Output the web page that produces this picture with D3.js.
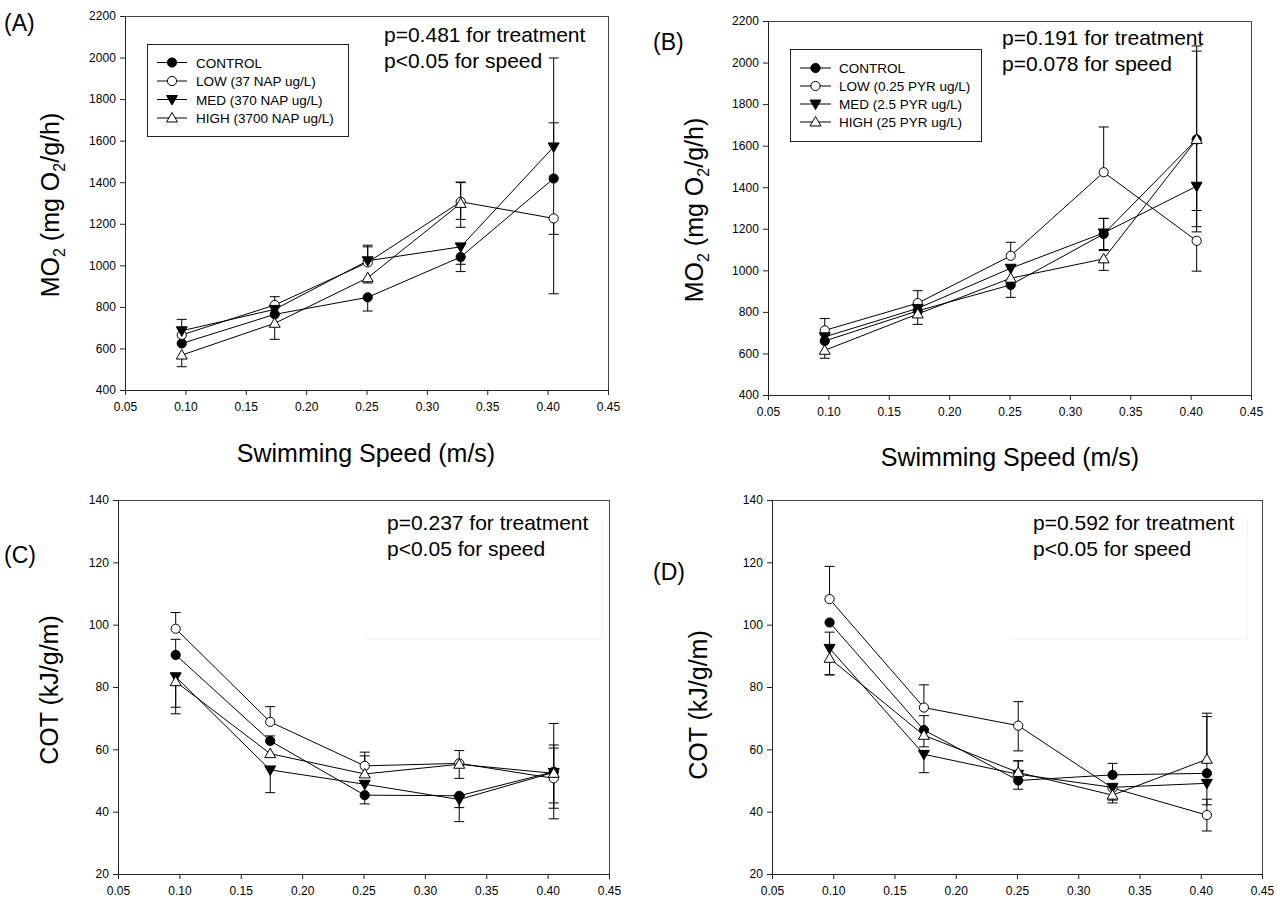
<!DOCTYPE html>
<html><head><meta charset="utf-8">
<script src="https://cdn.jsdelivr.net/npm/d3@7"></script>
<style>
html,body{margin:0;padding:0;background:#fff;}
svg{display:block;font-family:Arial,"Liberation Sans",sans-serif;}
</style></head>
<body>
<svg id="chart" width="1286" height="903"></svg>
<script>
// ---------- data ----------
const speeds = [0.097, 0.174, 0.251, 0.328, 0.405];
const xTicks = [0.05, 0.10, 0.15, 0.20, 0.25, 0.30, 0.35, 0.40, 0.45];
const moTicks = [400, 600, 800, 1000, 1200, 1400, 1600, 1800, 2000, 2200];
const cotTicks = [20, 40, 60, 80, 100, 120, 140];
const seriesNames = ["CONTROL", "LOW", "MED", "HIGH"];
const legendA = ["CONTROL", "LOW (37 NAP ug/L)", "MED (370 NAP ug/L)", "HIGH (3700 NAP ug/L)"];
const legendB = ["CONTROL", "LOW (0.25 PYR ug/L)", "MED (2.5 PYR ug/L)", "HIGH (25 PYR ug/L)"];

// Panel A: MO2, naphthalene (rows: CONTROL, LOW, MED, HIGH)
const aMeans = [[624, 764, 846, 1040, 1418],
                [665, 809, 1014, 1306, 1226],
                [685, 788, 1022, 1089, 1570],
                [568, 721, 940, 1298, null]];
const aErrUp = [[0, 0, 0, 0, 580], [0, 40, 75, 95, 0], [55, 0, 75, 0, 116], [0, 0, 0, 100, 0]];
const aErrDn = [[0, 0, 66, 70, 555], [0, 0, 0, 123, 77], [0, 0, 0, 84, 0], [56, 77, 25, 77, 0]];

// Panel B: MO2, pyrene
const bMeans = [[660, 805, 930, 1175, 1630],
                [711, 842, 1070, 1472, 1142],
                [680, 817, 1010, 1180, 1405],
                [615, 790, 962, 1055, 1630]];
const bErrUp = [[0, 0, 0, 75, 450], [57, 60, 65, 218, 0], [0, 0, 0, 70, 0], [0, 0, 0, 0, 425]];
const bErrDn = [[0, 0, 60, 80, 445], [0, 0, 0, 0, 146], [0, 0, 0, 80, 117], [38, 50, 0, 55, 420]];

// Panel C: COT, naphthalene
const cMeans = [[90.3, 62.7, 45.3, 45.1, 52.8],
                [98.7, 68.8, 54.7, 55.5, 50.7],
                [83.3, 53.4, 48.8, 43.9, 52.6],
                [81.7, 58.6, 52.1, 55.2, 52.3]];
const cErrUp = [[5, 1.6, 0, 0, 8.6], [5.2, 4.9, 4.4, 4.1, 17.6], [0, 0, 0, 0, 7.8], [0, 0, 5.8, 0, 0]];
const cErrDn = [[0, 0, 2.8, 3.8, 10], [0, 0, 0, 0, 13], [9.8, 7.3, 0, 7.1, 11.5], [10.3, 0, 0, 4.5, 0]];

// Panel D: COT, pyrene
const dMeans = [[100.7, 66.2, 50.0, 51.8, 52.3],
                [108.2, 73.4, 67.6, 47.6, 38.9],
                [92.4, 58.4, 52.0, 47.8, 49.1],
                [89.2, 64.5, 52.6, 45.3, 56.8]];
const dErrUp = [[0, 4.6, 0, 3.7, 18.2], [10.5, 7.3, 7.7, 0, 5.1], [5.2, 0, 4.3, 0, 0], [0, 0, 3.7, 0, 14.8]];
const dErrDn = [[0, 0, 2.8, 0, 0], [0, 0, 8.1, 0, 5.1], [8.5, 5.9, 0, 4.1, 6.9], [5.3, 3.7, 0, 2.5, 0]];

const pTextA = ["p=0.481 for treatment", "p<0.05 for speed"];
const pTextB = ["p=0.191 for treatment", "p=0.078 for speed"];
const pTextC = ["p=0.237 for treatment", "p<0.05 for speed"];
const pTextD = ["p=0.592 for treatment", "p<0.05 for speed"];

// ---------- drawing ----------
const svg = d3.select("#chart");
svg.append("rect").attr("width", 1286).attr("height", 903).attr("fill", "#fff");

// marker styles: CONTROL filled circle, LOW open circle, MED filled down-triangle, HIGH open up-triangle
const markerSpec = [
  {type: "circle", fill: "#000"},
  {type: "circle", fill: "#fff"},
  {type: "tri", fill: "#000", rot: 180},
  {type: "tri", fill: "#fff", rot: 0}
];
const triPath = d3.symbol().type(d3.symbolTriangle).size(52)();

function drawMarker(g, spec, cx, cy) {
  if (spec.type === "circle") {
    g.append("circle").attr("cx", cx).attr("cy", cy).attr("r", 4.6)
      .attr("fill", spec.fill).attr("stroke", "#000").attr("stroke-width", 1);
  } else {
    g.append("path").attr("d", triPath)
      .attr("transform", `translate(${cx},${cy + (spec.rot ? -0.8 : 0.8)}) rotate(${spec.rot})`)
      .attr("fill", spec.fill).attr("stroke", "#000").attr("stroke-width", 1);
  }
}

function drawPanel(cfg) {
  const {x0, x1, y0, y1, yDomain, yTicks, means, errUp, errDn} = cfg;
  const g = svg.append("g");
  const x = d3.scaleLinear().domain([0.05, 0.45]).range([x0, x1]);
  const y = d3.scaleLinear().domain(yDomain).range([y1, y0]);

  // frame: top & right
  g.append("line").attr("x1", x0).attr("x2", x1).attr("y1", y0 + 0.5).attr("y2", y0 + 0.5)
    .attr("stroke", "#444").attr("stroke-width", 1);
  g.append("line").attr("x1", x1 + 0.5).attr("x2", x1 + 0.5).attr("y1", y0).attr("y2", y1)
    .attr("stroke", "#444").attr("stroke-width", 1);

  // axes
  const ax = g.append("g").attr("transform", `translate(0,${y1})`)
    .call(d3.axisBottom(x).tickValues(xTicks).tickFormat(d3.format(".2f")).tickSize(5).tickSizeOuter(0));
  const ay = g.append("g").attr("transform", `translate(${x0},0)`)
    .call(d3.axisLeft(y).tickValues(yTicks).tickFormat(d3.format("d")).tickSize(5).tickSizeOuter(0));
  [ax, ay].forEach(a => {
    a.select(".domain").attr("stroke", "#222");
    a.selectAll(".tick line").attr("stroke", "#222");
    a.selectAll(".tick text").attr("font-size", 12).attr("fill", "#000")
      .attr("font-family", "Arial, 'Liberation Sans', sans-serif");
  });
  ax.selectAll(".tick text").attr("dy", "1.05em");
  ay.selectAll(".tick text").attr("dx", "-0.1em");

  const plot = g.append("g");
  // lines
  const line = d3.line().defined(d => d[1] !== null)
    .x(d => x(d[0])).y(d => y(d[1]));
  means.forEach((vals, si) => {
    plot.append("path").datum(speeds.map((s, i) => [s, vals[i]]))
      .attr("d", line).attr("fill", "none").attr("stroke", "#000").attr("stroke-width", 1);
  });
  // error bars
  means.forEach((vals, si) => {
    vals.forEach((v, i) => {
      if (v === null) return;
      const cx = x(speeds[i]);
      const parts = [];
      if (errUp[si][i] > 0) parts.push(v + errUp[si][i]);
      if (errDn[si][i] > 0) parts.push(v - errDn[si][i]);
      parts.forEach(end => {
        plot.append("line").attr("x1", cx).attr("x2", cx).attr("y1", y(v)).attr("y2", y(end))
          .attr("stroke", "#000").attr("stroke-width", 1);
        plot.append("line").attr("x1", cx - 5).attr("x2", cx + 5).attr("y1", y(end)).attr("y2", y(end))
          .attr("stroke", "#000").attr("stroke-width", 1);
      });
    });
  });
  // markers
  means.forEach((vals, si) => {
    vals.forEach((v, i) => {
      if (v === null) return;
      drawMarker(plot, markerSpec[si], x(speeds[i]), y(v));
    });
  });

  // p-value annotation
  const pt = g.append("text").attr("font-size", 21).attr("fill", "#000");
  cfg.pText.forEach((t, i) => {
    pt.append("tspan").attr("x", cfg.pX).attr("y", cfg.pY + i * 26).text(t);
  });

  // panel letter
  g.append("text").attr("x", cfg.letterX).attr("y", cfg.letterY).attr("font-size", 23)
    .attr("fill", "#000").text(cfg.letter);

  // legend
  if (cfg.legend) {
    const L = cfg.legend;
    g.append("rect").attr("x", L.x + 0.5).attr("y", L.y + 0.5).attr("width", L.w).attr("height", L.h)
      .attr("fill", "#fff").attr("stroke", "#222").attr("stroke-width", 1);
    L.labels.forEach((lab, i) => {
      const cy = L.y + L.first + i * L.step;
      g.append("line").attr("x1", L.x + L.lx0).attr("x2", L.x + L.lx1).attr("y1", cy).attr("y2", cy)
        .attr("stroke", "#000").attr("stroke-width", 1);
      drawMarker(g, markerSpec[i], L.x + (L.lx0 + L.lx1) / 2, cy);
      g.append("text").attr("x", L.x + L.tx).attr("y", cy + 5).attr("font-size", 13.5)
        .attr("fill", "#000").text(lab);
    });
  }
  return {x, y};
}

function yTitleMO(cx, cy) {
  const t = svg.append("text").attr("transform", `translate(${cx},${cy}) rotate(-90)`)
    .attr("text-anchor", "middle").attr("font-size", 25).attr("fill", "#000");
  t.append("tspan").text("MO");
  t.append("tspan").attr("font-size", 16).attr("dy", 6).text("2");
  t.append("tspan").attr("dy", -6).text(" (mg O");
  t.append("tspan").attr("font-size", 16).attr("dy", 6).text("2");
  t.append("tspan").attr("dy", -6).text("/g/h)");
}
function yTitleCOT(cx, cy) {
  svg.append("text").attr("transform", `translate(${cx},${cy}) rotate(-90)`)
    .attr("text-anchor", "middle").attr("font-size", 25).attr("fill", "#000").text("COT (kJ/g/m)");
}
function xTitle(cx, cy) {
  svg.append("text").attr("x", cx).attr("y", cy).attr("text-anchor", "middle")
    .attr("font-size", 25).attr("fill", "#000").text("Swimming Speed (m/s)");
}

// faint box remnants in lower panels
function faintBox(xa, xb, ya, yb) {
  svg.append("path").attr("d", `M${xa},${yb}H${xb}V${ya}`).attr("fill", "none")
    .attr("stroke", "#f0f0f0").attr("stroke-width", 1);
}
faintBox(365, 602, 520, 639);
faintBox(1010, 1247, 520, 639);

drawPanel({x0: 125, x1: 608, y0: 16, y1: 390, yDomain: [400, 2200], yTicks: moTicks,
  means: aMeans, errUp: aErrUp, errDn: aErrDn, pText: pTextA, pX: 384, pY: 42,
  letter: "(A)", letterX: 4, letterY: 31,
  legend: {x: 147, y: 44, w: 201, h: 92, first: 18.5, step: 18.5, lx0: 10, lx1: 40, tx: 49, labels: legendA}});
drawPanel({x0: 768, x1: 1251, y0: 21, y1: 395, yDomain: [400, 2200], yTicks: moTicks,
  means: bMeans, errUp: bErrUp, errDn: bErrDn, pText: pTextB, pX: 1002, pY: 45,
  letter: "(B)", letterX: 653, letterY: 50,
  legend: {x: 790, y: 49, w: 191, h: 92, first: 19, step: 18, lx0: 10, lx1: 41, tx: 49, labels: legendB}});
drawPanel({x0: 118, x1: 609, y0: 500, y1: 874, yDomain: [20, 140], yTicks: cotTicks,
  means: cMeans, errUp: cErrUp, errDn: cErrDn, pText: pTextC, pX: 387, pY: 530,
  letter: "(C)", letterX: 4, letterY: 563});
drawPanel({x0: 772, x1: 1262, y0: 500, y1: 874, yDomain: [20, 140], yTicks: cotTicks,
  means: dMeans, errUp: dErrUp, errDn: dErrDn, pText: pTextD, pX: 1033, pY: 530,
  letter: "(D)", letterX: 653, letterY: 580});

yTitleMO(59, 205);
yTitleMO(703, 210);
yTitleCOT(58, 690);
yTitleCOT(707, 705);
xTitle(366, 462);
xTitle(1010, 466);
</script>
</body></html>
